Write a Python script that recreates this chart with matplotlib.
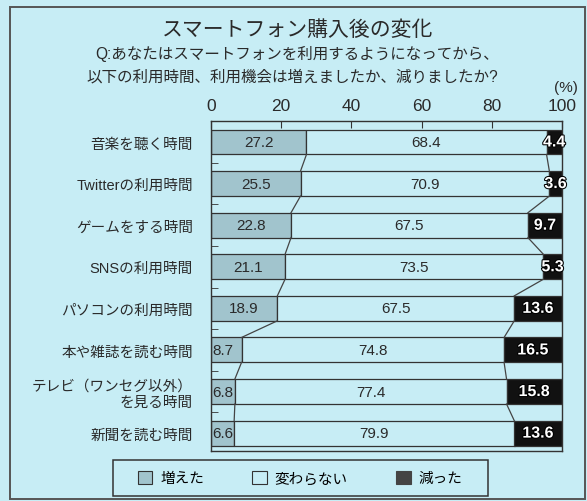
import numpy as np
import matplotlib
matplotlib.use('Agg')
import matplotlib.pyplot as plt
from matplotlib import font_manager
from matplotlib.patches import Rectangle, Patch
import matplotlib.patheffects as pe

plt.rcParams['font.family'] = ['Liberation Sans', 'Noto Sans CJK JP', 'DejaVu Sans']

categories = ['音楽を聴く時間', 'Twitterの利用時間', 'ゲームをする時間', 'SNSの利用時間',
              'パソコンの利用時間', '本や雑誌を読む時間', 'テレビ（ワンセグ以外）\nを見る時間',
              '新聞を読む時間']
increased = [27.2, 25.5, 22.8, 21.1, 18.9, 8.7, 6.8, 6.6]
unchanged = [68.4, 70.9, 67.5, 73.5, 67.5, 74.8, 77.4, 79.9]
decreased = [4.4, 3.6, 9.7, 5.3, 13.6, 16.5, 15.8, 13.6]
legend_labels = ['増えた', '変わらない', '減った']
x_ticks = [0, 20, 40, 60, 80, 100]

BG = '#c7edf5'
C_INC = '#a1c4cd'
C_DEC = '#111111'
EDGE = '#333333'
TXT = '#2a2a2a'

# narrow digits for the axis numbers, if the font is there
names = {f.name for f in font_manager.fontManager.ttflist}
TICK_FONT = 'Liberation Sans Narrow' if 'Liberation Sans Narrow' in names else 'Liberation Sans'

W, H = 587, 502
fig = plt.figure(figsize=(W / 100, H / 100), dpi=100, facecolor=BG)


def fx(px):
    return px / W


def fy(py):
    return 1 - py / H


# outer frame
fig.patches.append(Rectangle((fx(10), fy(500)), 575 / W, 492 / H, transform=fig.transFigure,
                             fill=False, edgecolor='#555555', linewidth=1.4))

fig.text(fx(298), fy(30), 'スマートフォン購入後の変化', ha='center', va='center',
         fontsize=15, color=TXT)
fig.text(fx(297), fy(54), 'Q:あなたはスマートフォンを利用するようになってから、',
         ha='center', va='center', fontsize=11.2, color=TXT)
fig.text(fx(292), fy(77), '以下の利用時間、利用機会は増えましたか、減りましたか?',
         ha='center', va='center', fontsize=11.2, color=TXT)
fig.text(fx(566), fy(88), '(%)', ha='center', va='center', fontsize=11, color=TXT,
         family=TICK_FONT)

ax = fig.add_axes([fx(211), fy(452), 351 / W, 330 / H])
ax.set_facecolor(BG)

n = len(categories)
y = np.arange(n)
h = 0.6
inc = np.array(increased)
unc = np.array(unchanged)
dec = np.array(decreased)

ax.barh(y, inc, height=h, color=C_INC, edgecolor=EDGE, linewidth=0.9)
ax.barh(y, unc, left=inc, height=h, color=BG, edgecolor=EDGE, linewidth=0.9)
ax.barh(y, dec, left=100 - dec, height=h, color=C_DEC, edgecolor=EDGE, linewidth=0.9)

# connecting lines between bars
b1 = inc
b2 = 100 - dec
for i in range(n - 1):
    ax.plot([b1[i], b1[i + 1]], [i + h / 2, i + 1 - h / 2], color='#444444', lw=0.9)
    ax.plot([b2[i], b2[i + 1]], [i + h / 2, i + 1 - h / 2], color='#444444', lw=0.9)

for i in range(n):
    if inc[i] < 10:
        ax.text(0.3, i, f'{inc[i]:.1f}', ha='left', va='center', fontsize=11, color=TXT)
    else:
        ax.text(inc[i] / 2, i, f'{inc[i]:.1f}', ha='center', va='center', fontsize=11,
                color=TXT)
    ax.text(inc[i] + unc[i] / 2, i, f'{unc[i]:.1f}', ha='center', va='center', fontsize=11,
            color=TXT)
    ax.text(100 - dec[i] / 2, i, f'{dec[i]:.1f}', ha='center', va='center', fontsize=11.5,
            color='white', fontweight='bold',
            path_effects=[pe.withStroke(linewidth=1.5, foreground='black')])

ax.set_xlim(0, 100)
ax.set_ylim(7.43, -0.505)
ax.xaxis.tick_top()
ax.set_xticks(x_ticks)
ax.set_xticklabels([str(t) for t in x_ticks], fontsize=12.5, color=TXT, family=TICK_FONT)
ax.tick_params(axis='x', direction='in', length=5, pad=6, color=EDGE)
ax.set_yticks(y)
ax.set_yticklabels(categories, fontsize=10.5, color=TXT)
ax.tick_params(axis='y', which='major', length=0, pad=13)
ax.set_yticks(y[:-1] + 0.5, minor=True)
ax.tick_params(axis='y', which='minor', direction='in', length=5, color=EDGE)
for lab in ax.get_yticklabels():
    lab.set_multialignment('right')
for s in ax.spines.values():
    s.set_color(EDGE)
    s.set_linewidth(1.0)

# legend box
fig.patches.append(Rectangle((fx(113), fy(497)), 375 / W, 36 / H, transform=fig.transFigure,
                             fill=False, edgecolor=EDGE, linewidth=1.1))
handles = [Patch(facecolor=C_INC, edgecolor=EDGE, linewidth=0.8),
           Patch(facecolor=BG, edgecolor=EDGE, linewidth=0.8),
           Patch(facecolor='#444444', edgecolor='#444444', linewidth=0.8)]
fig.legend(handles, legend_labels, loc='center', bbox_to_anchor=(fx(300), fy(479)),
           ncol=3, fontsize=10.5, frameon=False, handlelength=1.0, handleheight=1.0,
           handletextpad=0.55, columnspacing=3.3, borderpad=0.0)

fig.savefig('out.png', dpi=100, facecolor=BG)
